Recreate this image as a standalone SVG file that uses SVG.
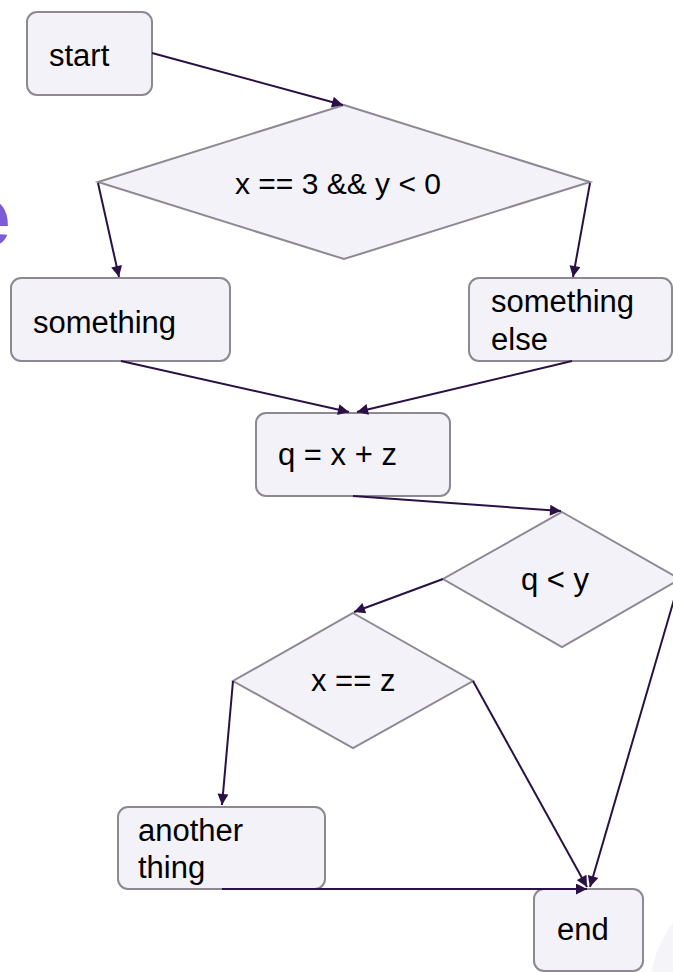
<svg xmlns="http://www.w3.org/2000/svg" width="673" height="972" viewBox="0 0 673 972">
<style>
.n{fill:#f3f2f8;stroke:#8e8893;stroke-width:2}
.t{font-family:"Liberation Sans",Arial,sans-serif;font-size:31px;fill:#000}
.e{fill:none;stroke:#2a1145;stroke-width:2;marker-end:url(#a)}
</style>
<defs>
<marker id="a" viewBox="0 0 10 10" refX="10" refY="5" markerWidth="14" markerHeight="11" markerUnits="userSpaceOnUse" orient="auto">
<path d="M0,0 L10,5 L0,10 z" fill="#2a1145"/>
</marker>
</defs>
<rect width="673" height="972" fill="#ffffff"/>
<circle cx="760" cy="990" r="110" fill="#f5f4f9"/>
<text x="-37" y="246" font-family="Liberation Sans,Arial,sans-serif" font-weight="bold" font-size="86" fill="#7b5bd6">e</text>
<g id="start"><rect class="n" x="27" y="12" width="125" height="83" rx="10"/><text class="t" x="49" y="66">start</text></g>
<g id="cond1"><polygon class="n" points="344,105 590,182 344,259 98,182"/><text class="t" x="338" y="194" text-anchor="middle" style="font-size:30px">x == 3 &amp;&amp; y &lt; 0</text></g>
<g id="something"><rect class="n" x="11" y="278" width="219" height="83" rx="10"/><text class="t" x="33" y="333">something</text></g>
<g id="somethingelse"><rect class="n" x="469" y="278" width="203" height="83" rx="10"/><text class="t" x="491" y="312">something</text><text class="t" x="491" y="350">else</text></g>
<g id="q"><rect class="n" x="256" y="413" width="194" height="83" rx="10"/><text class="t" x="278" y="465">q = x + z</text></g>
<g id="cond2"><polygon class="n" points="562,512 680,579 562,647 443,579"/><text class="t" x="521" y="590">q &lt; y</text></g>
<g id="cond3"><polygon class="n" points="353,613 473,681 353,748 233,681"/><text class="t" x="311" y="691">x == z</text></g>
<g id="another"><rect class="n" x="118" y="807" width="207" height="82" rx="10"/><text class="t" x="138" y="841">another</text><text class="t" x="138" y="878">thing</text></g>
<g id="end"><rect class="n" x="534" y="889" width="109" height="82" rx="10"/><text class="t" x="557" y="940">end</text></g>
<g id="edges">
<path class="e" d="M152,53 L343,105"/>
<path class="e" d="M98,183 L119,277"/>
<path class="e" d="M590,183 L573,277"/>
<path class="e" d="M121,361 L349,412"/>
<path class="e" d="M572,361 L357,412"/>
<path class="e" d="M353,496 L561,511"/>
<path class="e" d="M443,579 L354,612"/>
<path class="e" d="M233,681 L222,805"/>
<path class="e" d="M473,681 L587,887"/>
<path class="e" d="M680,579 L590,887"/>
<path class="e" d="M222,889 L587,889"/>
</g>
</svg>
